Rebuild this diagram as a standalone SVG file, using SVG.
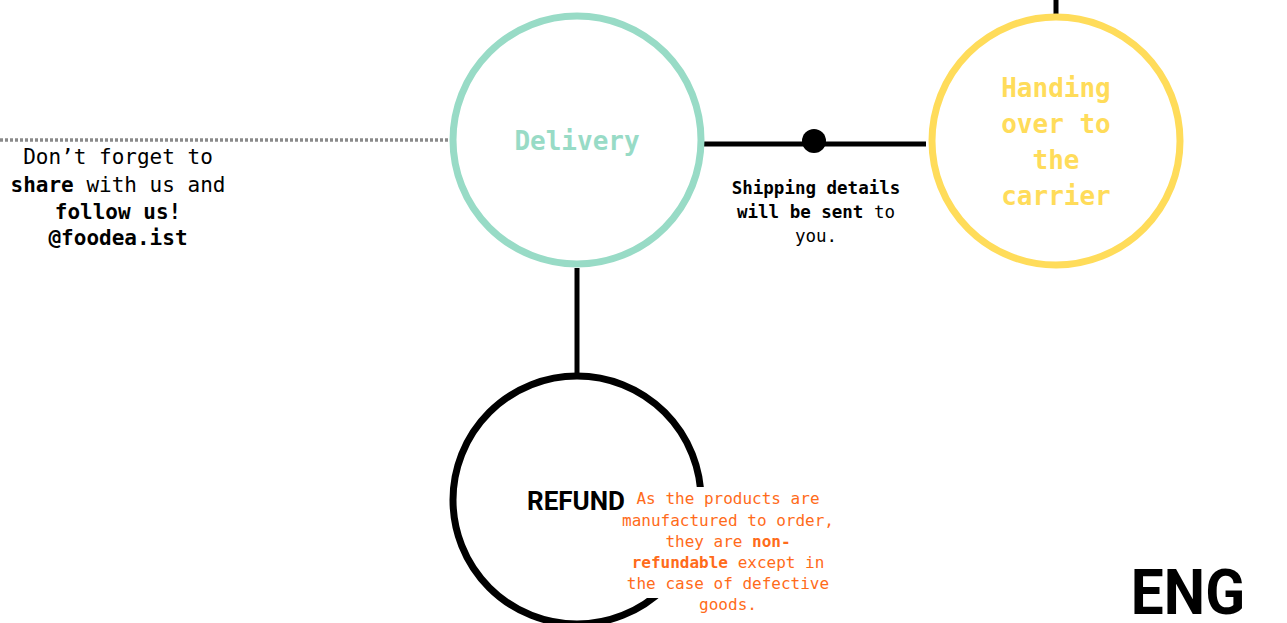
<svg xmlns="http://www.w3.org/2000/svg" width="1287" height="623" viewBox="0 0 1287 623">
<style>
.mono{font-family:"DejaVu Sans Mono","Liberation Mono",monospace;text-anchor:middle}
.b{font-weight:bold}
.ring{fill:none;stroke-width:7}
.conn{stroke:#000;stroke-width:5;fill:none}
</style>
<rect width="1287" height="623" fill="#fff"/>
<g id="connectors">
<line x1="0" y1="140" x2="450" y2="140" stroke="#8a8a8a" stroke-width="3.5" stroke-dasharray="3,2"/>
<line class="conn" x1="704" y1="144" x2="926" y2="144"/>
<circle cx="814" cy="141" r="12" fill="#000"/>
<line class="conn" x1="577" y1="268" x2="577" y2="374"/>
<line class="conn" x1="1056" y1="0" x2="1056" y2="15"/>
</g>
<g id="delivery">
<circle class="ring" cx="577" cy="140" r="124" stroke="#98dbc6"/>
<text class="mono b" x="577" y="150" font-size="26" fill="#98dbc6">Delivery</text>
</g>
<g id="carrier">
<circle class="ring" cx="1056" cy="141" r="124" stroke="#ffdc5a"/>
<g class="mono b" font-size="26" fill="#ffdc5a">
<text x="1056" y="97">Handing</text>
<text x="1056" y="133">over to</text>
<text x="1056" y="169">the</text>
<text x="1056" y="205">carrier</text>
</g>
</g>
<g id="share-note" class="mono" font-size="21" fill="#000">
<text x="118" y="164">Don’t forget to</text>
<text x="118" y="192"><tspan class="b">share</tspan> with us and</text>
<text x="118" y="219" class="b">follow us!</text>
<text x="118" y="245" class="b">@foodea.ist</text>
</g>
<g id="shipping-note" class="mono" font-size="17.5" fill="#000">
<text x="816" y="194" class="b">Shipping details</text>
<text x="816" y="218"><tspan class="b">will be sent</tspan> to</text>
<text x="816" y="242">you.</text>
</g>
<g id="refund">
<circle class="ring" cx="577" cy="500" r="124" stroke="#000"/>
<rect x="621" y="487" width="222" height="111" fill="#fff"/>
<text x="576" y="510" font-family="Roboto,'Liberation Sans',sans-serif" font-weight="bold" font-size="26" text-anchor="middle" fill="#000">REFUND</text>
<g class="mono" font-size="16" fill="#ff6b1a">
<text x="728" y="504">As the products are</text>
<text x="728" y="526">manufactured to order,</text>
<text x="728" y="547">they are <tspan class="b">non-</tspan></text>
<text x="728" y="568"><tspan class="b">refundable</tspan> except in</text>
<text x="728" y="589">the case of defective</text>
<text x="728" y="610">goods.</text>
</g>
</g>
<g id="lang">
<text x="1188" y="614" font-family="Roboto,'Liberation Sans',sans-serif" font-weight="bold" font-size="63" text-anchor="middle" fill="#000" transform="translate(1188,0) scale(0.93,1) translate(-1188,0)">ENG</text>
</g>
</svg>
